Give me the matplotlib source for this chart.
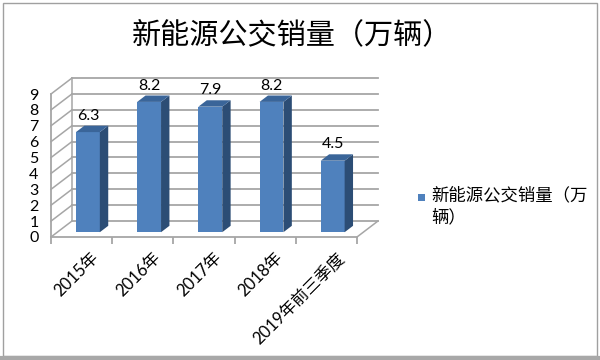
import matplotlib
matplotlib.use("Agg")
import matplotlib.pyplot as plt
from matplotlib.patches import Polygon, Rectangle
from matplotlib.lines import Line2D
from matplotlib.transforms import IdentityTransform, offset_copy, ScaledTranslation

plt.rcParams['font.family'] = ['Lato', 'Noto Sans CJK SC', 'DejaVu Sans']

categories = ['2015年', '2016年', '2017年', '2018年', '2019年前三季度']
sales = [6.3, 8.2, 7.9, 8.2, 4.5]
yticks = list(range(0, 10))
series_name = '新能源公交销量（万辆）'
legend_text = '新能源公交销量（万\n辆）'

FRONT = '#4f81bd'
SIDE = '#2c4d75'
TOP = '#3a6599'
GRID = '#a6a6a6'

W, H = 600, 360
fig = plt.figure(figsize=(6, 3.6), dpi=100)
# front plane of the 3D box, in pixels: x 51..357, y 94..237
ax = fig.add_axes([51 / W, 1 - 237 / H, 306 / W, 143 / H])
ax.set_xlim(0, len(categories))
ax.set_ylim(0, 9)
ax.patch.set_visible(False)

depth = (21, 16)          # wall depth in pixels
bar_off = (6.3, 4.8)      # where the bar front sits inside the depth
bar_depth = (8.4, 6.4)
bar_w = 0.39

disp = ax.transData.transform
ident = IdentityTransform()

# back wall gridlines and left wall slants
back = offset_copy(ax.transData, fig, x=depth[0], y=depth[1], units='dots')
for v in yticks:
    ax.plot([0, len(categories)], [v, v], color=GRID, lw=1.3, transform=back,
            clip_on=False, zorder=1)
    p = disp((0, v))
    fig.add_artist(Line2D([p[0], p[0] + depth[0]], [p[1], p[1] + depth[1]],
                          color=GRID, lw=1.1, transform=ident, zorder=1))
ax.plot([0, 0], [0, 9], color=GRID, lw=1.1, transform=back, clip_on=False, zorder=1)
# floor right edge
p = disp((len(categories), 0))
fig.add_artist(Line2D([p[0], p[0] + depth[0]], [p[1], p[1] + depth[1]],
                      color=GRID, lw=1.1, transform=ident, zorder=1))

# bars with side and top faces
front_tr = offset_copy(ax.transData, fig, x=bar_off[0], y=bar_off[1], units='dots')
xs = [i + 0.5 for i in range(len(categories))]
ax.bar(xs, sales, width=bar_w, color=FRONT, transform=front_tr, zorder=3)
for x, v in zip(xs, sales):
    l = disp((x - bar_w / 2, v)) + bar_off
    r = disp((x + bar_w / 2, v)) + bar_off
    rb = disp((x + bar_w / 2, 0)) + bar_off
    dx, dy = bar_depth
    side = Polygon([rb, r, (r[0] + dx, r[1] + dy), (rb[0] + dx, rb[1] + dy)],
                   closed=True, facecolor=SIDE, edgecolor='none',
                   transform=ident, zorder=3)
    top = Polygon([l, r, (r[0] + dx, r[1] + dy), (l[0] + dx, l[1] + dy)],
                  closed=True, facecolor=TOP, edgecolor='none',
                  transform=ident, zorder=3)
    fig.add_artist(side)
    fig.add_artist(top)
    c = disp((x, v)) + bar_off
    fig.text(c[0] / W, (c[1] + dy + 3) / H, f'{v}', ha='center', va='bottom',
             fontsize=11.5)

# axes lines and ticks
for s in ['top', 'right']:
    ax.spines[s].set_visible(False)
for s in ['left', 'bottom']:
    ax.spines[s].set_color(GRID)
    ax.spines[s].set_linewidth(1.3)
ax.set_yticks(yticks)
ax.set_yticklabels([str(v) for v in yticks], fontsize=11.5)
ax.tick_params(axis='y', length=0, pad=9)
ax.set_xticks(range(len(categories) + 1))
ax.set_xticklabels([])
ax.tick_params(axis='x', which='major', length=5, color=GRID, width=1.3)
ax.set_xticks(xs, minor=True)
ax.set_xticklabels(categories, minor=True, rotation=45, ha='right',
                   rotation_mode='anchor', fontsize=12)
ax.tick_params(axis='x', which='minor', length=0, pad=9)
shift = ScaledTranslation(9 / 100, 0, fig.dpi_scale_trans)
for lbl in ax.get_xticklabels(minor=True):
    lbl.set_transform(lbl.get_transform() + shift)

fig.text(292 / W, 1 - 35 / H, series_name, ha='center', va='center', fontsize=21,
         family='Noto Sans CJK SC', fontweight='medium')

# legend: square key next to a two-line label
fig.add_artist(Rectangle((418 / W, 1 - 201 / H), 7 / W, 7 / H, facecolor=FRONT,
                         edgecolor='none', transform=fig.transFigure))
fig.text(431 / W, 1 - 186 / H, legend_text, ha='left', va='top', fontsize=12.5,
         family='Noto Sans CJK SC', linespacing=1.3)

# outer frame
fig.add_artist(Rectangle((3 / W, 4 / H), 594 / W, 353 / H, fill=False,
                         edgecolor='#a0a0a0', lw=1, transform=fig.transFigure))
fig.add_artist(Line2D([0, 1], [2 / H, 2 / H], color='#a8a8a8', lw=3,
                      transform=fig.transFigure))

fig.savefig('out.png', dpi=100)
